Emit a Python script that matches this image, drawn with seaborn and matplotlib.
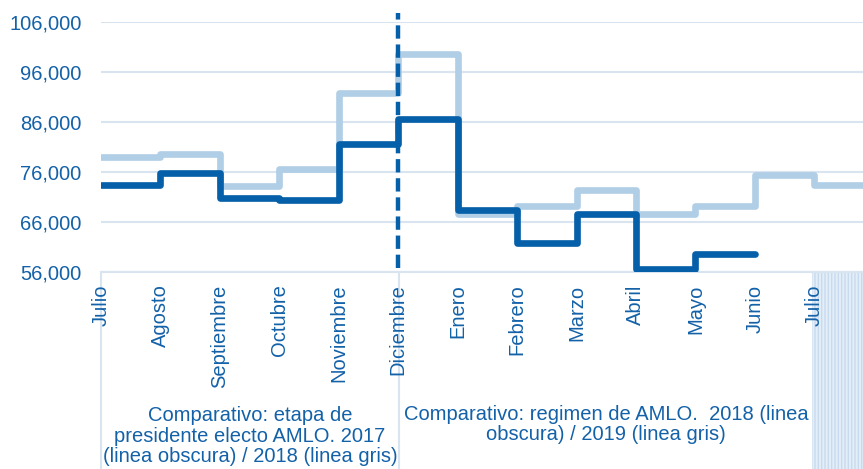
import matplotlib
matplotlib.use('Agg')
import matplotlib.pyplot as plt
from matplotlib.patches import Rectangle
from matplotlib.lines import Line2D
from matplotlib.ticker import FuncFormatter
import numpy as np
import pandas as pd
import seaborn as sns

# month labels on the x axis (Julio -> Julio)
meses = ['Julio', 'Agosto', 'Septiembre', 'Octubre', 'Noviembre', 'Diciembre',
         'Enero', 'Febrero', 'Marzo', 'Abril', 'Mayo', 'Junio', 'Julio']

# dark line: 2017 (Jul-Dic) then 2018 (Ene-Jun)
linea_obscura = [73400, 75900, 70900, 70500, 81700, 86600,
                 68400, 61800, 67700, 56700, 59700, 59700]

# light line: 2018 (Jul-Dic) then 2019 (Ene-Jul)
linea_gris = [79100, 79700, 73300, 76600, 91800, 99600,
              67600, 69200, 72500, 67600, 69300, 75400, 73400, 73400]

y_ticks = [56000, 66000, 76000, 86000, 96000, 106000]

texto_1 = 'Comparativo: etapa de\npresidente electo AMLO. 2017\n(linea obscura) / 2018 (linea gris)'
texto_2 = 'Comparativo: regimen de AMLO.  2018 (linea\nobscura) / 2019 (linea gris)'

dark = '#0560A9'
light = '#B0CEE6'
txt_col = '#1361A8'
grid_col = '#D8E5F1'

sns.set_style('white')
plt.rcParams['font.family'] = ['Liberation Sans', 'DejaVu Sans']

df_gris = pd.DataFrame({'x': np.arange(len(linea_gris)), 'y': linea_gris})
df_obs = pd.DataFrame({'x': np.arange(len(linea_obscura)), 'y': linea_obscura})

W, H = 863, 469
fig = plt.figure(figsize=(W / 100, H / 100), dpi=100)
ax = fig.add_axes([101 / W, (H - 272) / H, (W - 101) / W, 250 / H])
ax.patch.set_alpha(0)

# horizontal grid
for v in y_ticks:
    ax.axhline(v, color=grid_col, lw=1.5, zorder=0)

sns.lineplot(data=df_gris, x='x', y='y', ax=ax, color=light, lw=4.8,
             drawstyle='steps-post', solid_joinstyle='round', solid_capstyle='round', zorder=2)
sns.lineplot(data=df_obs, x='x', y='y', ax=ax, color=dark, lw=4.8,
             drawstyle='steps-post', solid_joinstyle='round', solid_capstyle='round', zorder=3)

# dashed divider at Diciembre
idx_dic = meses.index('Diciembre')
ax.plot([idx_dic, idx_dic], [56800, 107800], color=dark, lw=3.2,
        dashes=(3.0, 1.3), clip_on=False, zorder=4)

ax.set_xlim(0, 12.82)
ax.set_ylim(y_ticks[0], y_ticks[-1])
ax.set_xticks(range(len(meses)))
ax.set_xticklabels(meses, rotation=90, va='top', ha='center')
ax.set_yticks(y_ticks)
ax.yaxis.set_major_formatter(FuncFormatter(lambda v, p: f'{int(v):,}'))
ax.tick_params(axis='x', length=0, pad=9, labelsize=14.5, labelcolor=txt_col)
ax.tick_params(axis='y', length=0, pad=14, labelsize=14.5, labelcolor=txt_col)
ax.set_xlabel('')
ax.set_ylabel('')
for s in ['top', 'right', 'left']:
    ax.spines[s].set_visible(False)
ax.spines['bottom'].set_color(grid_col)
ax.spines['bottom'].set_linewidth(1.5)

# separators for the category groups below the axis (behind the labels)
for px in [101, 399]:
    fig.add_artist(Line2D([px / W, px / W], [0, (H - 272) / H], color=grid_col,
                          lw=1.5, zorder=-1))

# striped block at the bottom right
fig.add_artist(Rectangle((812 / W, 0), (W - 812) / W, (H - 272) / H,
                         facecolor='#E4EEF8', edgecolor='#C8DBEE', hatch='|||||',
                         lw=0, zorder=-1))

fig.text(250 / W, 1 - 436 / H, texto_1, ha='center', va='center',
         fontsize=14.5, color=txt_col, linespacing=1.12)
fig.text(606 / W, 1 - 424.5 / H, texto_2, ha='center', va='center',
         fontsize=14.5, color=txt_col, linespacing=1.12)

fig.savefig('out.png', dpi=100)
